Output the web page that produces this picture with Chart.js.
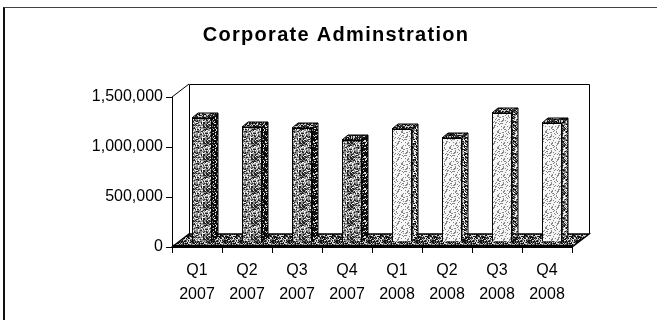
<!DOCTYPE html>
<html>
<head>
<meta charset="utf-8">
<script src="https://cdn.jsdelivr.net/npm/chart.js@4/dist/chart.umd.min.js"></script>
<style>
  html, body { margin: 0; padding: 0; background: #fff; }
  #wrap { position: relative; width: 657px; height: 320px; overflow: hidden; }
  #frame { position: absolute; left: 3px; top: 7px; width: 700px; height: 400px;
           border-left: 2px solid #111; border-top: 1px solid #444; pointer-events: none; }
</style>
</head>
<body>
<div id="wrap">
  <canvas id="myChart" width="657" height="320"></canvas>
  <div id="frame"></div>
</div>
<script>
// Datos del gráfico
const chartTitle = 'Corporate Adminstration';
const quarters = ['Q1', 'Q2', 'Q3', 'Q4', 'Q1', 'Q2', 'Q3', 'Q4'];
const years = ['2007', '2007', '2007', '2007', '2008', '2008', '2008', '2008'];
const values = [1240000, 1150000, 1140000, 1020000, 1130000, 1040000, 1290000, 1190000];
const yTicks = [0, 500000, 1000000, 1500000];

// Efecto 3D (desplazamientos en pixeles)
const WALL_DX = 17, WALL_DY = 13;   // pared del fondo
const BAR_SHIFT_X = 5, BAR_SHIFT_Y = -5; // plano de las barras
const FACE_DX = 6, FACE_DY = 5;     // profundidad de cada barra
const FONT = '"Liberation Sans", Arial, sans-serif';

// Textura punteada determinista
function noise(x, y, seed) {
  const n = Math.sin(x * 12.9898 + y * 78.233 + seed * 37.719) * 43758.5453;
  return n - Math.floor(n);
}
function makePattern(base, dark, light, pDark, pLight, seed) {
  const c = document.createElement('canvas');
  c.width = 16; c.height = 16;
  const g = c.getContext('2d');
  g.fillStyle = base;
  g.fillRect(0, 0, 16, 16);
  for (let y = 0; y < 16; y++) {
    for (let x = 0; x < 16; x++) {
      const h = noise(x, y, seed);
      if (h < pDark) { g.fillStyle = dark; g.fillRect(x, y, 1, 1); }
      else if (h > 1 - pLight) { g.fillStyle = light; g.fillRect(x, y, 1, 1); }
    }
  }
  return g.createPattern(c, 'repeat');
}

const ctx = document.getElementById('myChart').getContext('2d');
const frontDark = makePattern('#8c8c8c', '#222', '#eee', 0.28, 0.22, 1);
const frontLight = makePattern('#f4f4f4', '#888', '#fff', 0.22, 0.1, 2);
const sideDark = makePattern('#111', '#000', '#ddd', 0.2, 0.3, 3);
const sideLight = makePattern('#777', '#111', '#eee', 0.3, 0.3, 4);
const topFace = makePattern('#333', '#000', '#ccc', 0.2, 0.3, 5);
const floorFill = makePattern('#666', '#111', '#ddd', 0.35, 0.25, 6);

const is2007 = years.map(y => y === '2007');

// Plugin: título, pared, piso y caras laterales de las barras
const fake3d = {
  id: 'fake3d',
  beforeDatasetsDraw(chart) {
    const c = chart.ctx;
    const a = chart.chartArea;
    c.save();
    // título (con espaciado entre letras)
    c.fillStyle = '#000';
    c.font = 'bold 20px ' + FONT;
    c.letterSpacing = '1.3px';
    c.textAlign = 'center';
    c.textBaseline = 'alphabetic';
    c.fillText(chartTitle, 336, 41);
    c.letterSpacing = '0px';
    // pared del fondo
    c.fillStyle = '#fff';
    c.fillRect(a.left + WALL_DX, a.top - WALL_DY, a.right - a.left, a.bottom - a.top);
    c.strokeStyle = '#000';
    c.lineWidth = 1;
    c.beginPath();
    c.moveTo(a.left + WALL_DX + 0.5, a.bottom - WALL_DY);
    c.lineTo(a.left + WALL_DX + 0.5, a.top - WALL_DY + 0.5);
    c.lineTo(a.right + WALL_DX + 0.5, a.top - WALL_DY + 0.5);
    c.lineTo(a.right + WALL_DX + 0.5, a.bottom - WALL_DY);
    c.stroke();
    // diagonal del eje y
    c.beginPath();
    c.moveTo(a.left, a.top);
    c.lineTo(a.left + WALL_DX, a.top - WALL_DY);
    c.stroke();
    // piso
    c.beginPath();
    c.moveTo(a.left, a.bottom);
    c.lineTo(a.left + WALL_DX, a.bottom - WALL_DY);
    c.lineTo(a.right + WALL_DX, a.bottom - WALL_DY);
    c.lineTo(a.right, a.bottom);
    c.closePath();
    c.fillStyle = floorFill;
    c.fill();
    c.lineWidth = 1.5;
    c.stroke();
    c.lineWidth = 2.5;
    c.beginPath();
    c.moveTo(a.left, a.bottom - 1);
    c.lineTo(a.right, a.bottom - 1);
    c.stroke();
    c.restore();

    c.save();
    c.translate(BAR_SHIFT_X, BAR_SHIFT_Y);
  },
  afterDatasetsDraw(chart) {
    const c = chart.ctx;
    const meta = chart.getDatasetMeta(0);
    c.strokeStyle = '#000';
    c.lineWidth = 1;
    meta.data.forEach((bar, i) => {
      const p = bar.getProps(['x', 'y', 'base', 'width'], true);
      const l = p.x - p.width / 2, r = p.x + p.width / 2;
      // cara lateral
      c.beginPath();
      c.moveTo(r, p.y);
      c.lineTo(r + FACE_DX, p.y - FACE_DY);
      c.lineTo(r + FACE_DX, p.base - FACE_DY);
      c.lineTo(r, p.base);
      c.closePath();
      c.fillStyle = is2007[i] ? sideDark : sideLight;
      c.fill();
      c.stroke();
      // cara superior
      c.beginPath();
      c.moveTo(l, p.y);
      c.lineTo(l + FACE_DX, p.y - FACE_DY);
      c.lineTo(r + FACE_DX, p.y - FACE_DY);
      c.lineTo(r, p.y);
      c.closePath();
      c.fillStyle = topFace;
      c.fill();
      c.stroke();
    });
    c.restore();
  }
};

const chart = new Chart(ctx, {
  type: 'bar',
  data: {
    labels: quarters.map((q, i) => [q, years[i]]),
    datasets: [{
      data: values,
      backgroundColor: is2007.map(b => b ? frontDark : frontLight),
      borderColor: '#000',
      borderWidth: 1,
      categoryPercentage: 0.8,
      barPercentage: 0.5,
      clip: false
    }]
  },
  options: {
    responsive: false,
    animation: false,
    layout: { padding: { left: 0, right: 85, top: 97, bottom: 0 } },
    plugins: {
      legend: { display: false },
      tooltip: { enabled: false },
      title: { display: false }
    },
    scales: {
      x: {
        afterFit(scale) { scale.height = 73; },
        grid: { drawOnChartArea: false, tickLength: 6, color: '#000', offset: true },
        border: { display: true, color: '#000', width: 1 },
        ticks: {
          color: '#000',
          padding: 6,
          maxRotation: 0,
          font: { family: FONT, size: 16, lineHeight: 1.47 }
        }
      },
      y: {
        min: 0,
        max: yTicks[yTicks.length - 1],
        afterFit(scale) { scale.width = 172; },
        afterBuildTicks(scale) { scale.ticks = yTicks.map(v => ({ value: v })); },
        grid: { drawOnChartArea: false, tickLength: 6, color: '#000' },
        border: { display: true, color: '#000', width: 1 },
        ticks: {
          color: '#000',
          padding: 3,
          font: { family: FONT, size: 16 },
          callback: v => v.toLocaleString('en-US')
        }
      }
    }
  },
  plugins: [fake3d]
});
</script>
</body>
</html>
